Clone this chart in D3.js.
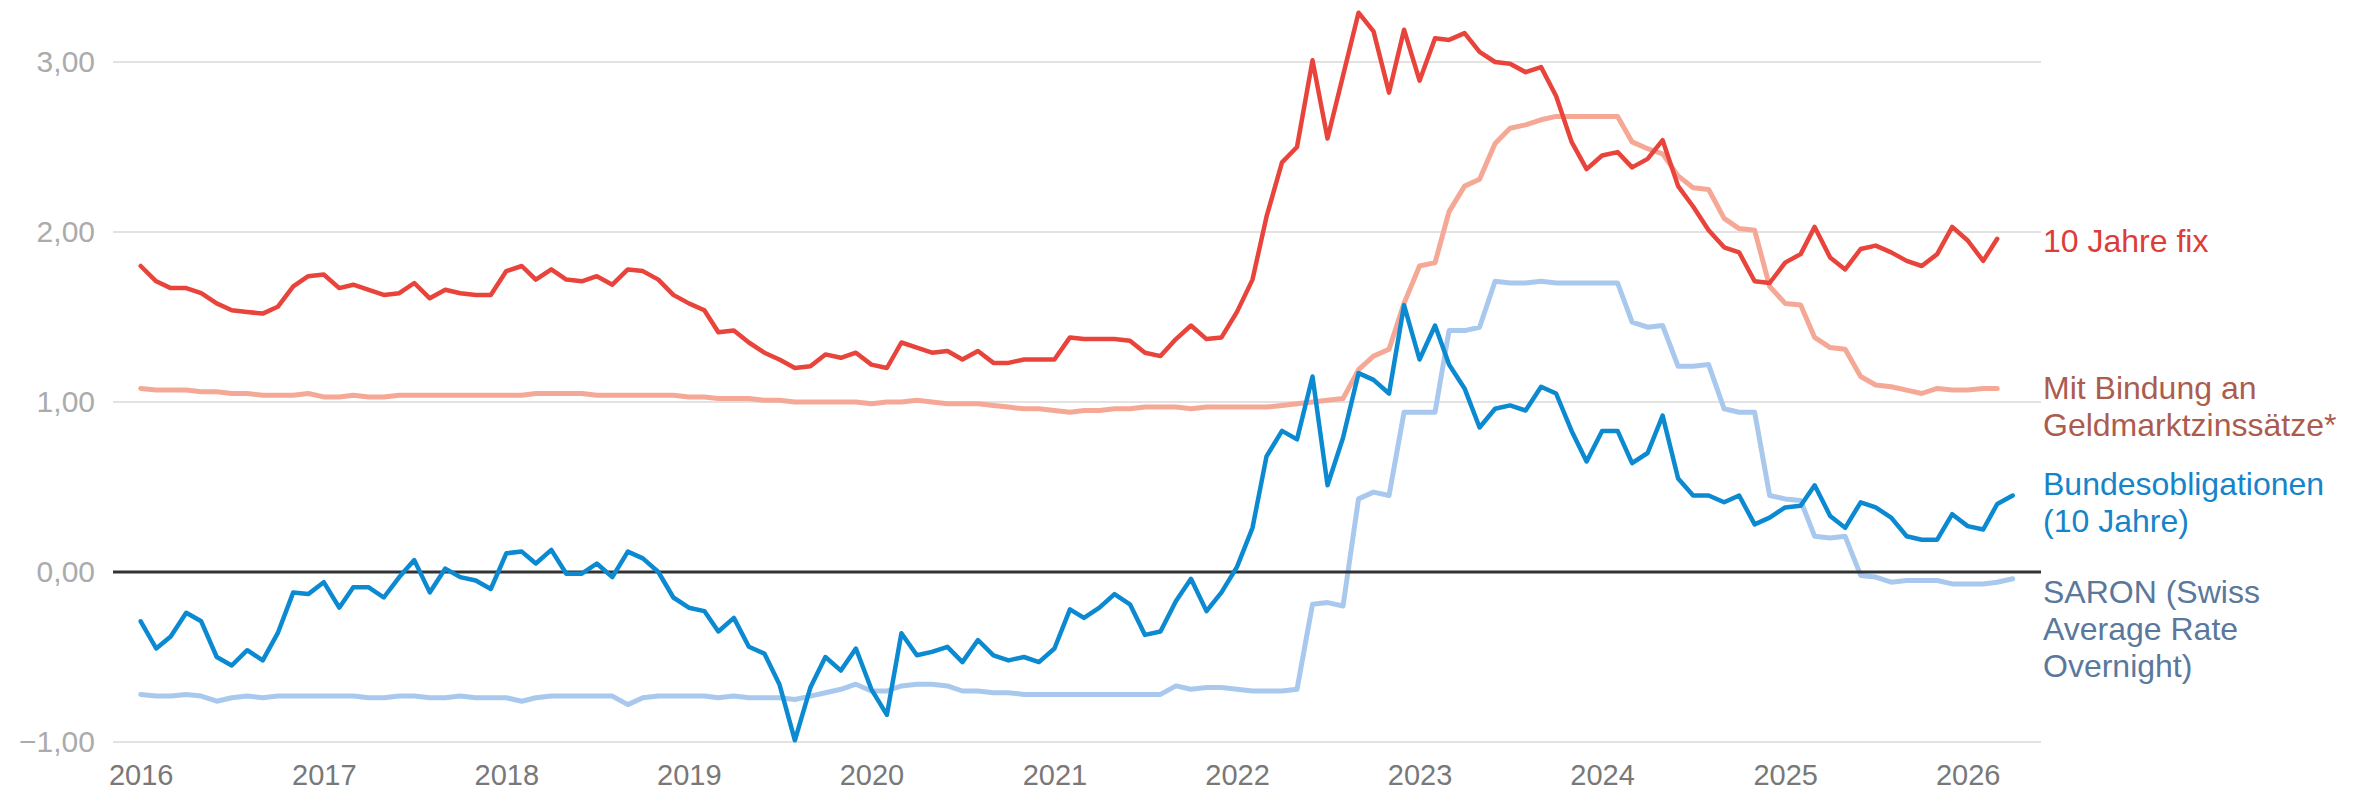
<!DOCTYPE html>
<html lang="de">
<head>
<meta charset="utf-8">
<title>Hypothekarzinsen und Referenzsätze</title>
<script src="https://cdn.jsdelivr.net/npm/d3@7"></script>
<style>
  html, body { margin: 0; padding: 0; background: #ffffff; }
  svg { display: block; font-family: "Liberation Sans", Arial, Helvetica, sans-serif; }
</style>
</head>
<body>
<svg id="chart" width="2369" height="794"></svg>
<script>
// Monthly series, January 2016 onwards (values in percent)
const startMonth = new Date(2016, 0, 1);

const fixed10Years = [
  1.80, 1.71, 1.67, 1.67, 1.64, 1.58, 1.54, 1.53, 1.52, 1.56, 1.68, 1.74,
  1.75, 1.67, 1.69, 1.66, 1.63, 1.64, 1.70, 1.61, 1.66, 1.64, 1.63, 1.63,
  1.77, 1.80, 1.72, 1.78, 1.72, 1.71, 1.74, 1.69, 1.78, 1.77, 1.72, 1.63,
  1.58, 1.54, 1.41, 1.42, 1.35, 1.29, 1.25, 1.20, 1.21, 1.28, 1.26, 1.29,
  1.22, 1.20, 1.35, 1.32, 1.29, 1.30, 1.25, 1.30, 1.23, 1.23, 1.25, 1.25,
  1.25, 1.38, 1.37, 1.37, 1.37, 1.36, 1.29, 1.27, 1.37, 1.45, 1.37, 1.38,
  1.53, 1.72, 2.09, 2.41, 2.50, 3.01, 2.55, 2.92, 3.29, 3.18, 2.82, 3.19,
  2.89, 3.14, 3.13, 3.17, 3.06, 3.00, 2.99, 2.94, 2.97, 2.80, 2.53, 2.37,
  2.45, 2.47, 2.38, 2.43, 2.54, 2.27, 2.15, 2.01, 1.91, 1.88, 1.71, 1.70,
  1.82, 1.87, 2.03, 1.85, 1.78, 1.90, 1.92, 1.88, 1.83, 1.80, 1.87, 2.03,
  1.95, 1.83, 1.96
];

const moneyMarketLinked = [
  1.08, 1.07, 1.07, 1.07, 1.06, 1.06, 1.05, 1.05, 1.04, 1.04, 1.04, 1.05,
  1.03, 1.03, 1.04, 1.03, 1.03, 1.04, 1.04, 1.04, 1.04, 1.04, 1.04, 1.04,
  1.04, 1.04, 1.05, 1.05, 1.05, 1.05, 1.04, 1.04, 1.04, 1.04, 1.04, 1.04,
  1.03, 1.03, 1.02, 1.02, 1.02, 1.01, 1.01, 1.00, 1.00, 1.00, 1.00, 1.00,
  0.99, 1.00, 1.00, 1.01, 1.00, 0.99, 0.99, 0.99, 0.98, 0.97, 0.96, 0.96,
  0.95, 0.94, 0.95, 0.95, 0.96, 0.96, 0.97, 0.97, 0.97, 0.96, 0.97, 0.97,
  0.97, 0.97, 0.97, 0.98, 0.99, 1.00, 1.01, 1.02, 1.19, 1.27, 1.31, 1.58,
  1.80, 1.82, 2.12, 2.27, 2.31, 2.52, 2.61, 2.63, 2.66, 2.68, 2.68, 2.68,
  2.68, 2.68, 2.53, 2.49, 2.46, 2.33, 2.26, 2.25, 2.08, 2.02, 2.01, 1.68,
  1.58, 1.57, 1.38, 1.32, 1.31, 1.15, 1.10, 1.09, 1.07, 1.05, 1.08, 1.07,
  1.07, 1.08, 1.08
];

const federalBonds10Years = [
  -0.29, -0.45, -0.38, -0.24, -0.29, -0.50, -0.55, -0.46, -0.52, -0.36, -0.12, -0.13,
  -0.06, -0.21, -0.09, -0.09, -0.15, -0.03, 0.07, -0.12, 0.02, -0.03, -0.05, -0.10,
  0.11, 0.12, 0.05, 0.13, -0.01, -0.01, 0.05, -0.03, 0.12, 0.08, 0.00, -0.15,
  -0.21, -0.23, -0.35, -0.27, -0.44, -0.48, -0.66, -0.99, -0.68, -0.50, -0.58, -0.45,
  -0.69, -0.84, -0.36, -0.49, -0.47, -0.44, -0.53, -0.40, -0.49, -0.52, -0.50, -0.53,
  -0.45, -0.22, -0.27, -0.21, -0.13, -0.19, -0.37, -0.35, -0.17, -0.04, -0.23, -0.12,
  0.03, 0.26, 0.68, 0.83, 0.78, 1.15, 0.51, 0.79, 1.17, 1.13, 1.05, 1.57,
  1.25, 1.45, 1.22, 1.08, 0.85, 0.96, 0.98, 0.95, 1.09, 1.05, 0.83, 0.65,
  0.83, 0.83, 0.64, 0.70, 0.92, 0.55, 0.45, 0.45, 0.41, 0.45, 0.28, 0.32,
  0.38, 0.39, 0.51, 0.33, 0.26, 0.41, 0.38, 0.32, 0.21, 0.19, 0.19, 0.34,
  0.27, 0.25, 0.40, 0.45
];

const saron = [
  -0.72, -0.73, -0.73, -0.72, -0.73, -0.76, -0.74, -0.73, -0.74, -0.73, -0.73, -0.73,
  -0.73, -0.73, -0.73, -0.74, -0.74, -0.73, -0.73, -0.74, -0.74, -0.73, -0.74, -0.74,
  -0.74, -0.76, -0.74, -0.73, -0.73, -0.73, -0.73, -0.73, -0.78, -0.74, -0.73, -0.73,
  -0.73, -0.73, -0.74, -0.73, -0.74, -0.74, -0.74, -0.75, -0.73, -0.71, -0.69, -0.66,
  -0.70, -0.70, -0.67, -0.66, -0.66, -0.67, -0.70, -0.70, -0.71, -0.71, -0.72, -0.72,
  -0.72, -0.72, -0.72, -0.72, -0.72, -0.72, -0.72, -0.72, -0.67, -0.69, -0.68, -0.68,
  -0.69, -0.70, -0.70, -0.70, -0.69, -0.19, -0.18, -0.20, 0.43, 0.47, 0.45, 0.94,
  0.94, 0.94, 1.42, 1.42, 1.44, 1.71, 1.70, 1.70, 1.71, 1.70, 1.70, 1.70,
  1.70, 1.70, 1.47, 1.44, 1.45, 1.21, 1.21, 1.22, 0.96, 0.94, 0.94, 0.45,
  0.43, 0.42, 0.21, 0.20, 0.21, -0.02, -0.03, -0.06, -0.05, -0.05, -0.05, -0.07,
  -0.07, -0.07, -0.06, -0.04
];

const yearTicks = [2016, 2017, 2018, 2019, 2020, 2021, 2022, 2023, 2024, 2025, 2026];
const valueTicks = [-1, 0, 1, 2, 3];

// Series order: light reference lines first, bold lines on top
const seriesList = [
  { name: "moneyMarket", values: moneyMarketLinked, color: "#f5a896", width: 5 },
  { name: "saron", values: saron, color: "#a9c8ee", width: 5 },
  { name: "bonds", values: federalBonds10Years, color: "#0b8ad1", width: 4.5 },
  { name: "fixed", values: fixed10Years, color: "#e8443b", width: 4.5 }
];

const legendEntries = [
  { lines: ["10 Jahre fix"], color: "#dc3d37", y: 252 },
  { lines: ["Mit Bindung an", "Geldmarktzinssätze*"], color: "#ab5c4e", y: 399 },
  { lines: ["Bundesobligationen", "(10 Jahre)"], color: "#1584c9", y: 495 },
  { lines: ["SARON (Swiss", "Average Rate", "Overnight)"], color: "#5a789c", y: 603 }
];

const svg = d3.select("#chart");
const width = 2369, height = 794;
svg.append("rect").attr("width", width).attr("height", height).attr("fill", "#ffffff");

const plotLeft = 113, plotRight = 2041;

const x = d3.scaleTime()
  .domain([new Date(2016, 0, 1), new Date(2026, 0, 1)])
  .range([140.7, 1967.7]);

const y = d3.scaleLinear()
  .domain([-1, 3])
  .range([742, 62]);

const monthAt = i => d3.timeMonth.offset(startMonth, i);

// Horizontal gridlines
svg.append("g")
  .selectAll("line")
  .data(valueTicks.filter(v => v !== 0))
  .join("line")
  .attr("x1", plotLeft).attr("x2", plotRight)
  .attr("y1", d => y(d)).attr("y2", d => y(d))
  .attr("stroke", "#e2e2e2")
  .attr("stroke-width", 2);

// Y axis labels
const yAxis = d3.axisLeft(y)
  .tickValues(valueTicks)
  .tickSize(0)
  .tickPadding(0)
  .tickFormat(d => d3.format(".2f")(d).replace(".", ","));

const yG = svg.append("g").attr("transform", "translate(95,0)").call(yAxis);
yG.select(".domain").remove();
yG.selectAll("text")
  .attr("fill", "#ababab")
  .attr("font-size", 30)
  .attr("font-family", "Liberation Sans, Arial, sans-serif");

// X axis labels
const xAxis = d3.axisBottom(x)
  .tickValues(yearTicks.map(yr => new Date(yr, 0, 1)))
  .tickSize(0)
  .tickFormat(d3.timeFormat("%Y"));

const xG = svg.append("g").attr("transform", "translate(0,742)").call(xAxis);
xG.select(".domain").remove();
xG.selectAll("text")
  .attr("y", 43)
  .attr("dy", 0)
  .attr("fill", "#787878")
  .attr("font-size", 29)
  .attr("font-family", "Liberation Sans, Arial, sans-serif");

const line = d3.line()
  .x((d, i) => x(monthAt(i)))
  .y(d => y(d))
  .curve(d3.curveLinear);

const linesG = svg.append("g").attr("fill", "none")
  .attr("stroke-linejoin", "round").attr("stroke-linecap", "round");

// Light reference lines
seriesList.slice(0, 2).forEach(s => {
  linesG.append("path")
    .attr("d", line(s.values))
    .attr("stroke", s.color)
    .attr("stroke-width", s.width);
});

// Zero baseline
svg.append("line")
  .attr("x1", plotLeft).attr("x2", plotRight)
  .attr("y1", y(0)).attr("y2", y(0))
  .attr("stroke", "#333333")
  .attr("stroke-width", 3);

const topG = svg.append("g").attr("fill", "none")
  .attr("stroke-linejoin", "round").attr("stroke-linecap", "round");

seriesList.slice(2).forEach(s => {
  topG.append("path")
    .attr("d", line(s.values))
    .attr("stroke", s.color)
    .attr("stroke-width", s.width);
});

// Direct labels at the right edge
const legendG = svg.append("g")
  .attr("font-size", 32)
  .attr("font-family", "Liberation Sans, Arial, sans-serif");

legendEntries.forEach(entry => {
  const t = legendG.append("text")
    .attr("x", 2043)
    .attr("y", entry.y)
    .attr("fill", entry.color);
  entry.lines.forEach((ln, i) => {
    t.append("tspan")
      .attr("x", 2043)
      .attr("dy", i === 0 ? 0 : 37)
      .text(ln);
  });
});
</script>
</body>
</html>
